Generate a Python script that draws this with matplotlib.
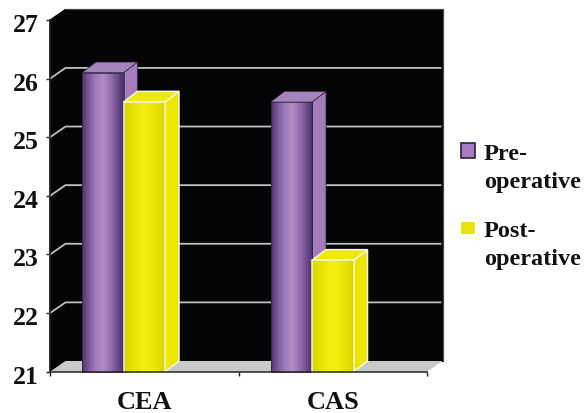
import numpy as np
import matplotlib
matplotlib.use('Agg')
import matplotlib.pyplot as plt
from matplotlib.colors import LinearSegmentedColormap
from matplotlib.patches import Polygon, Rectangle
from matplotlib.transforms import ScaledTranslation

categories = ['CEA', 'CAS']
pre_operative = [26.1, 25.6]
post_operative = [25.6, 22.9]
y_ticks = [21, 22, 23, 24, 25, 26, 27]

plt.rcParams['font.family'] = ['Liberation Serif', 'DejaVu Serif']
plt.rcParams['font.weight'] = 'bold'

W, H = 588, 414
LEFT, RIGHT, TOP, BOTTOM = 50, 427, 21, 372.7

fig = plt.figure(figsize=(W / 100, H / 100), dpi=100, facecolor='white')
ax = fig.add_axes([LEFT / W, 1 - BOTTOM / H, (RIGHT - LEFT) / W, (BOTTOM - TOP) / H])
ax.patch.set_visible(False)

# pixel sizes turned into data units
x_unit = (RIGHT - LEFT) / 2
y_unit = (BOTTOM - TOP) / 6
wall_dx, wall_dy = 15.5 / x_unit, 10.7 / y_unit
bar_dx, bar_dy = 14 / x_unit, 10.7 / y_unit
bar_w = 41.5 / x_unit
px = 1 / x_unit
x0, x1, y0, y1 = -0.5, 1.5, 21, 27

purple_map = LinearSegmentedColormap.from_list(
    'purple', ['#4f3570', '#7f5a9c', '#a07cb8', '#b08ec6', '#9a72b4', '#74508f', '#463066'])
yellow_map = LinearSegmentedColormap.from_list(
    'yellow', ['#d9d600', '#e6e200', '#f4ec10', '#f4ec10', '#e6e200', '#d6d200'])
gradient = np.linspace(0, 1, 128).reshape(1, -1)


def face(points, color, edge='none', lw=0, z=3):
    ax.add_patch(Polygon(points, closed=True, facecolor=color, edgecolor=edge,
                         linewidth=lw, clip_on=False, zorder=z, joinstyle='miter'))


# back wall, left wall and floor; the wall edges share its colour so no seam shows
face([(x0 + wall_dx, y0 + wall_dy), (x1 + wall_dx, y0 + wall_dy),
      (x1 + wall_dx, y1 + wall_dy), (x0 + wall_dx, y1 + wall_dy)], '#050507', '#050507', 0.8, 1)
face([(x0, y0), (x0 + wall_dx, y0 + wall_dy), (x0 + wall_dx, y1 + wall_dy), (x0, y1)],
     '#050507', '#050507', 0.8, 1)
face([(x0, y0), (x0 + wall_dx, y0 + wall_dy), (x1 + wall_dx, y0 + wall_dy), (x1, y0)], '#c9c9c9', z=1.5)

# thin grey rim along the top and right of the back wall
ax.plot([x0 + wall_dx, x1 + wall_dx, x1 + wall_dx], [y1 + wall_dy, y1 + wall_dy, y0 + wall_dy],
        color='#4a4a4a', lw=0.8, clip_on=False, zorder=1.2)

# gridlines run along the back wall with a slanted part on the side wall
for v in y_ticks[1:-1]:
    ax.plot([x0, x0 + wall_dx, x1 + wall_dx - 2 * px], [v, v + wall_dy, v + wall_dy],
            color='#c0c0c0', lw=1.3, clip_on=False, zorder=2, solid_joinstyle='miter')


def draw_bar(x, value, cmap, side, top, edge, lw, z):
    ax.imshow(gradient, extent=[x, x + bar_w, y0, value], cmap=cmap, aspect='auto',
              interpolation='bilinear', zorder=z + 0.1, clip_on=False)
    # side and top faces first, then the outline of the front
    face([(x + bar_w, y0), (x + bar_w + bar_dx, y0 + bar_dy),
          (x + bar_w + bar_dx, value + bar_dy), (x + bar_w, value)], side, edge, lw, z)
    face([(x, value), (x + bar_dx, value + bar_dy),
          (x + bar_w + bar_dx, value + bar_dy), (x + bar_w, value)], top, edge, lw, z)
    ax.add_patch(Rectangle((x, y0), bar_w, value - y0, facecolor='none', edgecolor=edge,
                           linewidth=lw, clip_on=False, zorder=z + 0.2))


for i in range(len(categories)):
    draw_bar(i - 1.5 * bar_w, pre_operative[i], purple_map, '#a47cbe', '#a583bf', '#2c2338', 0.5, 3 + i)
    draw_bar(i - 0.5 * bar_w, post_operative[i], yellow_map, '#ece600', '#eee80c', '#f4f4e0', 1.1, 3.5 + i)

ax.set_xlim(x0, x1)
ax.set_ylim(y0, y1)

for side in ['top', 'right']:
    ax.spines[side].set_visible(False)
for side in ['left', 'bottom']:
    ax.spines[side].set_color('#222222')
    ax.spines[side].set_linewidth(1.1)
    ax.spines[side].set_zorder(8)

ax.set_yticks(y_ticks)
ax.set_yticklabels([str(v) for v in y_ticks], fontsize=18.5, fontweight='bold', color='#111111')
ax.tick_params(axis='y', length=3, width=1.0, pad=5, color='#222222')
for label in ax.get_yticklabels():
    label.set_transform(label.get_transform() + ScaledTranslation(0, -2 / 100, fig.dpi_scale_trans))

# category labels sit between the tick marks
ax.set_xticks([x0, 0.5, x1])
ax.set_xticklabels([])
ax.tick_params(axis='x', length=3, width=1.0, color='#222222')
for i, name in enumerate(categories):
    ax.text(i, 20.385, name, ha='center', va='baseline', fontsize=19, fontweight='bold', color='#111111')


def fx(p):
    return p / W


def fy(p):
    return 1 - p / H


# legend, with the swatch next to the first line of each entry
fig.add_artist(Rectangle((fx(460.5), fy(159)), 14 / W, 15.5 / H, transform=fig.transFigure,
                         facecolor='#a47cc4', edgecolor='#2c2338', linewidth=1.2))
fig.add_artist(Rectangle((fx(461), fy(235)), 13.5 / W, 12.5 / H, transform=fig.transFigure,
                         facecolor='#e8e410', edgecolor='none'))
for y_line, line in [(160, 'Pre-'), (188, 'operative'), (237, 'Post-'), (265, 'operative')]:
    fig.text(fx(484), fy(y_line), line, ha='left', va='baseline', fontsize=17.5,
             fontweight='bold', color='#111111')

fig.savefig('out.png', dpi=100)
